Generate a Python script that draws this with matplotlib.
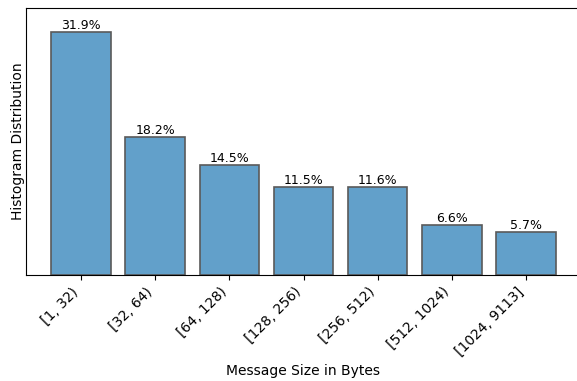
import matplotlib.pyplot as plt

#Data
bins = ["[1, 32)", "[32, 64)", "[64, 128)", "[128, 256)", "[256, 512)", "[512, 1024)", "[1024, 9113]"]
percent = [31.9, 18.2, 14.5, 11.5, 11.6, 6.6, 5.7]

fig = plt.figure(figsize=(5.77, 3.81), dpi=100)
ax = fig.add_axes([26 / 577, 1 - 275 / 381, 555 / 577, 267 / 381])

bars = ax.bar(range(len(bins)), percent, width=0.8, color="#62a0ca",
              edgecolor="#5a5a5a", linewidth=1.2)
for b, p in zip(bars, percent):
    ax.text(b.get_x() + b.get_width() / 2, b.get_height(), f"{p}%",
            ha="center", va="bottom", fontsize=9)

ax.set_ylim(0, max(percent) * 1.1)
ax.set_yticks([])
ax.set_xticks(range(len(bins)))
ax.set_xticklabels(bins, rotation=45, ha="right")
ax.set_xlabel("Message Size in Bytes")
ax.set_ylabel("Histogram Distribution", labelpad=1)

plt.savefig("out.png", dpi=100)
